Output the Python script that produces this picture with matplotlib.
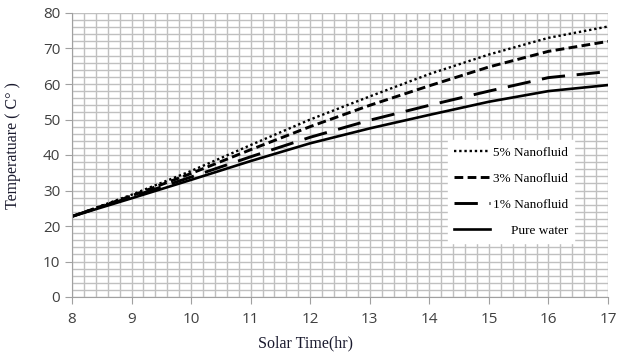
import matplotlib
matplotlib.use("Agg")
import matplotlib.pyplot as plt
from matplotlib.ticker import MultipleLocator
from matplotlib.transforms import Affine2D

hours = [8, 9, 10, 11, 12, 13, 14, 15, 16, 17]
nano5 = [22.7, 28.8, 35.5, 42.8, 50.0, 56.5, 62.8, 68.3, 73.0, 76.2]
nano3 = [22.7, 28.5, 34.8, 41.5, 48.0, 54.0, 59.5, 64.8, 69.2, 72.0]
nano1 = [22.7, 28.2, 33.8, 39.5, 45.0, 49.8, 54.0, 58.0, 61.8, 63.5]
pure = [22.7, 27.8, 33.0, 38.3, 43.3, 47.5, 51.3, 55.0, 58.0, 59.7]
labels = ["5% Nanofluid", "3% Nanofluid", "1% Nanofluid", "Pure water"]

W, H = 617, 358
fig = plt.figure(figsize=(W / 100, H / 100), dpi=100)
ax = fig.add_axes([72 / W, 1 - 297 / H, (608 - 72) / W, (297 - 13) / H])

ax.plot(hours, nano5, color="black", lw=1.7, ls=(0, (1, 1.2)), label=labels[0])
ax.plot(hours, nano3, color="black", lw=2.1, ls=(0, (3, 1.5)), label=labels[1])
ax.plot(hours, nano1, color="black", lw=2.1, ls=(0, (8, 4)), label=labels[2])
ax.plot(hours, pure, color="black", lw=1.9, ls="-", label=labels[3])

ax.set_xlim(8, 17)
ax.set_ylim(0, 80)
ax.xaxis.set_major_locator(MultipleLocator(1))
ax.xaxis.set_minor_locator(MultipleLocator(0.2))
ax.yaxis.set_major_locator(MultipleLocator(10))
ax.yaxis.set_minor_locator(MultipleLocator(2))
ax.grid(which="both", color="#c0c0c0", lw=1.0)
ax.set_axisbelow(True)
for s in ["top", "right"]:
    ax.spines[s].set_visible(False)
for s in ["left", "bottom"]:
    ax.spines[s].set_color("#a0a0a0")
ax.tick_params(which="major", direction="out", length=5, color="#a0a0a0",
               labelsize=11, labelcolor="#404040")
ax.tick_params(which="minor", length=0)
for t in ax.get_xticklabels() + ax.get_yticklabels():
    t.set_family("Open Sans")
ax.tick_params(axis="x", pad=6)

leg = ax.legend(loc="lower right", frameon=True, fancybox=False,
                edgecolor="white", facecolor="white", framealpha=1,
                prop={"family": "Liberation Serif", "size": 9.5},
                handlelength=2.7, handletextpad=0.2, labelspacing=1.05,
                borderpad=0.5)
leg.set_bbox_to_anchor((581 / W, 1 - 250 / H), transform=fig.transFigure)

# right-align legend texts
fig.canvas.draw()
renderer = fig.canvas.get_renderer()
texts = leg.get_texts()
widths = [t.get_window_extent(renderer).width for t in texts]
wmax = max(widths)
for t, w in zip(texts, widths):
    t.set_transform(Affine2D().translate(wmax - w, 0) + t.get_transform())

fig.text(13 / W, 1 - 146 / H, "Temperatuare ( C° )", rotation=90,
         ha="center", va="center", family="Liberation Serif", fontsize=11.5,
         color="#1a1a2e")
fig.text(305 / W, 1 - 343 / H, "Solar Time(hr)", ha="center", va="center",
         family="Liberation Serif", fontsize=11.5, color="#1a1a2e")

fig.savefig("out.png", dpi=100)
